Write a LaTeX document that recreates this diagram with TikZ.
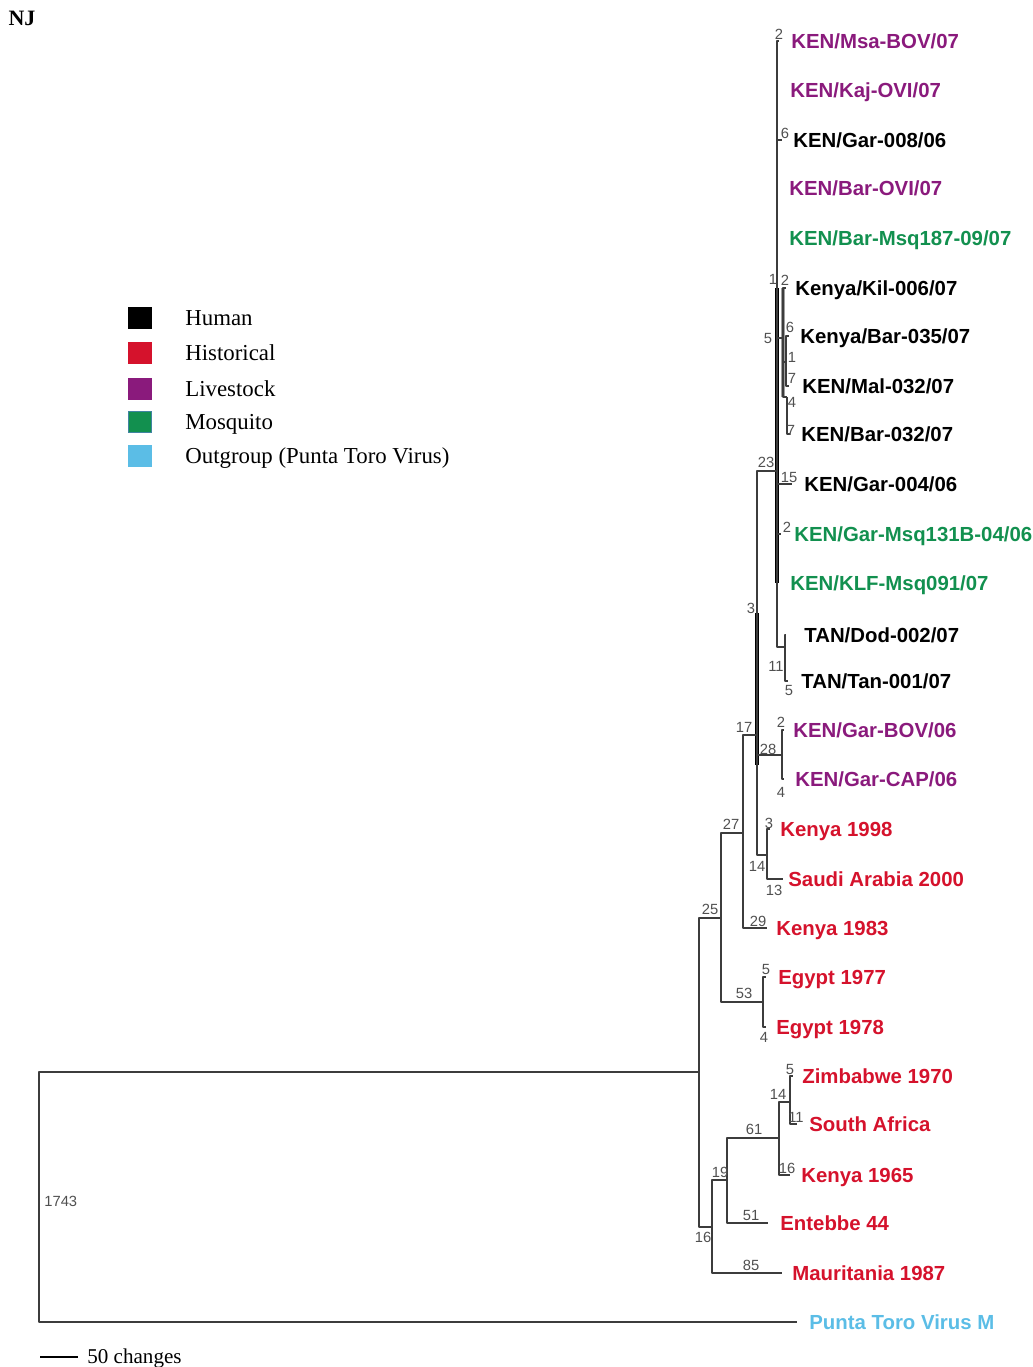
\documentclass[tikz,border=0pt]{standalone}
\usepackage{fontspec}
\setmainfont{Liberation Serif}
\newfontfamily\arialfont{Liberation Sans}
\definecolor{human}{HTML}{000000}
\definecolor{historical}{HTML}{D5122C}
\definecolor{livestock}{HTML}{8A1A7C}
\definecolor{mosquito}{HTML}{12904F}
\definecolor{outgroup}{HTML}{5BBDE6}
\definecolor{branchgray}{HTML}{3C3C3C}
\definecolor{numgray}{HTML}{505050}
\tikzset{
  branch/.style={draw=branchgray,line width=1.3pt,line join=round},
  thickbar/.style={draw=black,line width=2.2pt},
  graybar/.style={draw=gray!75,line width=2.4pt},
  tiplabel/.style={anchor=base west,inner sep=0pt,font=\arialfont\bfseries\fontsize{11.6}{13}\selectfont},
  blen/.style={inner sep=0pt,text=numgray,font=\arialfont\fontsize{8.4}{9}\selectfont},
  legbox/.style={minimum width=.46cm,minimum height=.42cm,inner sep=0pt,line width=.8pt},
  legtext/.style={anchor=base west,inner sep=0pt,font=\fontsize{13}{15}\selectfont},
}

\begin{document}
\begin{tikzpicture}[x=0.02cm,y=-0.02cm]
    \useasboundingbox (0,0) rectangle (1033,1367);
    \node[font=\bfseries\fontsize{12.5}{14}\selectfont] (title) at (22,18) {NJ};
    \foreach \k/\yy/\col/\bd/\txt in {1/318/human/human/Human,2/353/historical/historical/Historical,
      3/389/livestock/livestock/Livestock,4/422/mosquito/outgroup!70!black/Mosquito,
      5/456/outgroup/outgroup/{Outgroup (Punta Toro Virus)}}{
      \node[legbox,fill=\col,draw=\bd] (box\k) at (140,\yy) {};
      \node[legtext] (leg\k) at (185,{\yy+7.5}) {\txt};
    }
    \foreach \k/\ex/\lx/\yy/\col/\txt in {
      1/779/791/41/livestock/{KEN/Msa-BOV/07},2/777/790/90/livestock/{KEN/Kaj-OVI/07},
      3/782/793/140/human/{KEN/Gar-008/06},4/777/789/188/livestock/{KEN/Bar-OVI/07},
      5/777/789/238/mosquito/{KEN/Bar-Msq187-09/07},6/786/795/288/human/{Kenya/Kil-006/07},
      7/789/800/336/human/{Kenya/Bar-035/07},8/789/802/386/human/{KEN/Mal-032/07},
      9/790/801/434/human/{KEN/Bar-032/07},10/792/804/484/human/{KEN/Gar-004/06},
      11/781/794/534/mosquito/{KEN/Gar-Msq131B-04/06},12/778/790/583/mosquito/{KEN/KLF-Msq091/07},
      13/786/804/635/human/{TAN/Dod-002/07},14/788/801/681/human/{TAN/Tan-001/07},
      15/784/793/730/livestock/{KEN/Gar-BOV/06},16/784/795/779/livestock/{KEN/Gar-CAP/06},
      17/770/780/829/historical/{Kenya 1998},18/783/788/879/historical/{Saudi Arabia 2000},
      19/767/776/928/historical/{Kenya 1983},20/766/778/977/historical/{Egypt 1977},
      21/766/776/1027/historical/{Egypt 1978},22/793/802/1076/historical/{Zimbabwe 1970},
      23/797/809/1124/historical/{South Africa},24/790/801/1175/historical/{Kenya 1965},
      25/768/780/1223/historical/{Entebbe 44},26/782/792/1273/historical/{Mauritania 1987},
      27/797/809/1322/outgroup/{Punta Toro Virus M}}{
      \coordinate (e\k) at (\ex,\yy);
      \node[tiplabel,text=\col] (t\k) at (\lx,{\yy+7}) {\txt};
    }
    \coordinate (root) at (39,1197);
    \foreach \n/\xx/\yy in {n1/699/1072,n2/721/918,n3/712/1227,n4/743/833,n5/763/1002,
      n6/757/735,n7/777/471,n8/782/755,n9/767/855,n10/727/1180,n11/779/1138,n12/790/1102,
      n13/783/338,n14/785/647,n15/786/362,n16/787/397}{
      \coordinate (\n) at (\xx,\yy);
    }
    \draw[thickbar] (n7 |- e6) -- (n7 |- e12);
    \draw[thickbar] (757,613) -- (757,765);
    \draw[graybar] (n13 |- e6) -- (n13 |- n16);
    \foreach \a/\b in {root/n1,root/e27,n1/n2,n1/n3,n2/n4,n2/n5,n5/e20,n5/e21,n4/n6,n4/e19,
      n6/n7,n6/n8,n6/n9,n8/e15,n8/e16,n9/e17,n9/e18,n7/e1,n7/e2,n7/e3,n7/e4,n7/e5,n7/n13,
      n7/e10,n7/e11,n7/e12,n7/n14,n13/e6,n13/n15,n13/n16,n15/e7,n15/e8,n16/e9,n14/e13,n14/e14,
      n3/n10,n3/e26,n10/n11,n10/e25,n11/n12,n11/e24,n12/e22,n12/e23}{
      \draw[branch] (\a) |- (\b);
    }
    \node[blen,anchor=west] (len0) at (44,1201) {1743};
    \foreach \k/\xx/\yy/\v in {1/710/909/25,2/703/1237/16,3/731/824/27,4/744/993/53,5/766/969/5,
      6/764/1037/4,7/758/921/29,8/744/727/17,9/751/608/3,10/768/749/28,11/781/722/2,12/781/792/4,
      13/769/823/3,14/757/866/14,15/774/890/13,16/766/462/23,17/789/477/15,18/787/527/2,
      19/776/666/11,20/789/690/5,21/779/34/2,22/785/133/6,23/773/279/1,24/785/280/2,25/768/338/5,
      26/790/327/6,27/792/357/1,28/792/378/7,29/792/402/4,30/791/430/7,31/720/1172/19,
      32/754/1129/61,33/751/1215/51,34/751/1265/85,35/778/1094/14,36/787/1168/16,
      37/790/1069/5,38/796/1117/11}{
      \node[blen] (len\k) at (\xx,\yy) {\v};
    }
    \coordinate (sbl) at (40,1357);
    \coordinate (sbr) at (78,1357);
    \draw[branch,draw=black] (sbl) -- (sbr);
    \node[anchor=base west,inner sep=0pt,font=\fontsize{12}{13}\selectfont] (sbtext) at (87,1363) {50 changes};
\end{tikzpicture}
\end{document}
